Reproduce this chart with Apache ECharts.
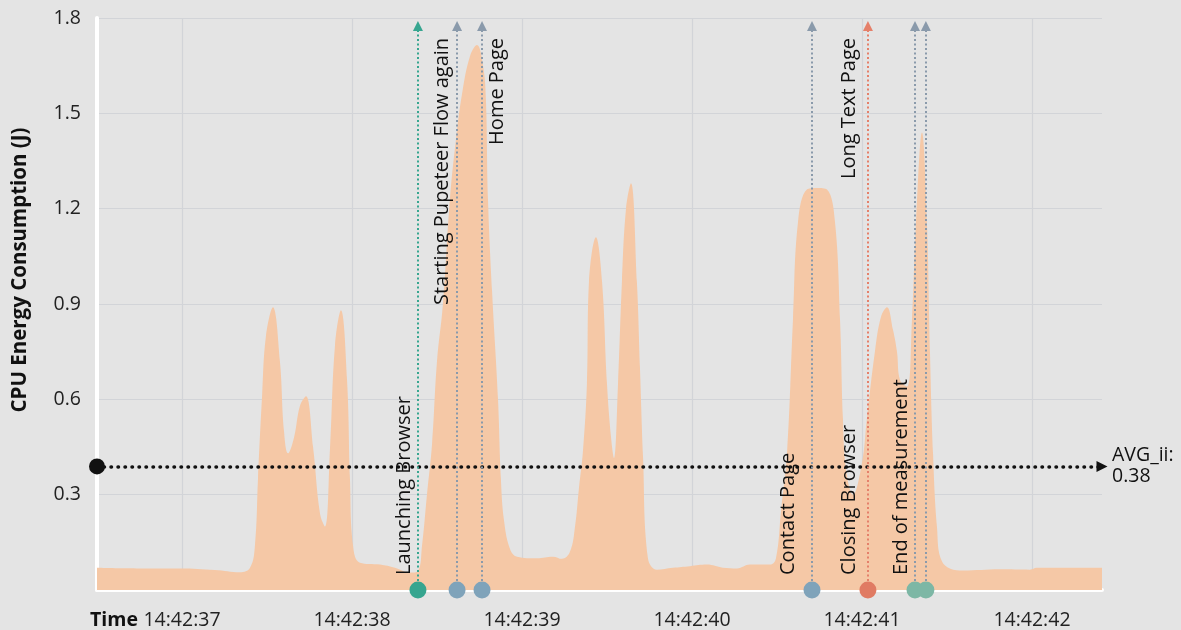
<!DOCTYPE html>
<html>
<head>
<meta charset="utf-8">
<script src="https://cdn.jsdelivr.net/npm/echarts@6/dist/echarts.min.js"></script>
<style>
  html, body { margin: 0; padding: 0; background: #e4e4e4; }
  #chart { width: 1181px; height: 630px; }
</style>
</head>
<body>
<div id="chart"></div>
<script>
// ---- data (time = seconds after 14:42:36) ----
const timeOffsets = [0.5, 0.753, 0.988, 1.194, 1.341, 1.4, 1.429, 1.447, 1.471, 1.494, 1.535, 1.576, 1.6, 1.624, 1.659, 1.694, 1.729, 1.771, 1.812, 1.841, 1.871, 1.9, 1.935, 1.971, 1.988, 2.006, 2.047, 2.165, 2.253, 2.341, 2.388, 2.412, 2.441, 2.471, 2.5, 2.535, 2.576, 2.612, 2.647, 2.694, 2.735, 2.771, 2.788, 2.8, 2.824, 2.859, 2.876, 2.894, 2.929, 2.971, 3.088, 3.182, 3.235, 3.282, 3.312, 3.335, 3.359, 3.382, 3.394, 3.435, 3.471, 3.5, 3.524, 3.541, 3.565, 3.588, 3.612, 3.641, 3.676, 3.694, 3.712, 3.741, 3.794, 3.888, 3.988, 4.088, 4.182, 4.265, 4.341, 4.459, 4.494, 4.524, 4.559, 4.594, 4.624, 4.676, 4.735, 4.794, 4.841, 4.871, 4.888, 4.906, 4.947, 5.0, 5.029, 5.076, 5.112, 5.147, 5.182, 5.206, 5.224, 5.265, 5.294, 5.318, 5.353, 5.382, 5.4, 5.418, 5.441, 5.471, 5.594, 5.812, 5.988, 6.029, 6.165, 6.412];
const cpuEnergy = [0.07, 0.068, 0.068, 0.063, 0.056, 0.07, 0.14, 0.35, 0.61, 0.8, 0.89, 0.72, 0.5, 0.43, 0.48, 0.58, 0.61, 0.45, 0.24, 0.2, 0.45, 0.77, 0.88, 0.66, 0.35, 0.14, 0.086, 0.08, 0.07, 0.055, 0.06, 0.14, 0.3, 0.46, 0.72, 0.9, 1.23, 1.42, 1.56, 1.68, 1.715, 1.65, 1.54, 1.23, 0.94, 0.6, 0.35, 0.22, 0.13, 0.105, 0.1, 0.105, 0.098, 0.12, 0.2, 0.32, 0.44, 0.65, 0.97, 1.11, 0.97, 0.65, 0.48, 0.415, 0.65, 0.97, 1.2, 1.28, 0.97, 0.7, 0.42, 0.1, 0.064, 0.07, 0.075, 0.08, 0.07, 0.068, 0.08, 0.08, 0.1, 0.25, 0.43, 0.85, 1.16, 1.26, 1.265, 1.26, 1.16, 0.85, 0.54, 0.38, 0.3, 0.4, 0.54, 0.75, 0.86, 0.89, 0.82, 0.75, 0.66, 0.64, 0.85, 1.16, 1.44, 1.16, 0.75, 0.43, 0.2, 0.09, 0.061, 0.065, 0.064, 0.07, 0.07, 0.07];

const xMin = 0.5, xMax = 6.412;
const tickLabels = ['14:42:37', '14:42:38', '14:42:39', '14:42:40', '14:42:41', '14:42:42'];
const yTicks = [0.3, 0.6, 0.9, 1.2, 1.5, 1.8];

const avgValue = 0.389;
const avgName = 'AVG_ii';

// events (vertical markers)
const eventTimes = [2.388, 2.618, 2.765, 4.706, 5.035, 5.312, 5.376];
const eventLineColors = ['#37a690', '#8a9aab', '#8a9aab', '#8a9aab', '#e5806a', '#8a9aab', '#8a9aab'];
const eventTopColors = ['#37a690', '#7fa3ba', '#7fa3ba', '#7fa3ba', '#e07b63', '#7fa3ba', '#7fa3ba'];
const eventDotColors = ['#36a58f', '#7fa3ba', '#7fa3ba', '#7fa3ba', '#e07b63', '#7db7a5', '#7db7a5'];

// notes attached to events
const noteTexts = ['Launching Browser', 'Starting Pupeteer Flow again', 'Home Page', 'Contact Page', 'Long Text Page', 'Closing Browser', 'End of measurement'];
const noteEvent = [0, 1, 2, 3, 4, 4, 5];
// styles
const notePositions = ['insideStartTop', 'insideEndTop', 'insideEndBottom', 'insideStartTop', 'insideEndTop', 'insideStartTop', 'insideStartTop'];
const noteDistances = [[15, 4], [12, 5], [12, 5], [15, 14], [12, 9], [15, 9], [15, 4]];

const FONT = '"Open Sans", "Noto Sans", sans-serif';
const lineTop = 1.775;

const areaData = timeOffsets.map((t, i) => [t, cpuEnergy[i]]);

const markLines = [];
// average line
markLines.push([
  { coord: [xMin, avgValue], symbol: 'circle', symbolSize: 16,
    lineStyle: { color: '#111', width: 3.5, type: [0.5, 6.5], cap: 'round' },
    itemStyle: { color: '#111' },
    label: {
      show: true, position: 'end', distance: 10,
      formatter: avgName + ':\n' + (Math.floor(avgValue * 100) / 100).toFixed(2),
      color: '#111', fontSize: 19.5, fontFamily: FONT, lineHeight: 21, align: 'left'
    }
  },
  { coord: [xMax, avgValue], symbol: 'triangle', symbolSize: 11 }
]);
// event lines
eventTimes.forEach((t, i) => {
  markLines.push([
    { coord: [t, 0], symbol: 'none',
      lineStyle: { color: eventLineColors[i], width: 2, type: [2, 2.5] },
      itemStyle: { color: eventTopColors[i] },
      label: { show: false } },
    { coord: [t, lineTop], symbol: 'triangle', symbolSize: 10 }
  ]);
});
// notes
noteTexts.forEach((txt, i) => {
  const t = eventTimes[noteEvent[i]];
  markLines.push([
    { coord: [t, 0], symbol: 'none',
      lineStyle: { color: 'rgba(0,0,0,0)', width: 0 },
      label: { show: true, position: notePositions[i], distance: noteDistances[i],
        formatter: txt, color: '#111', fontSize: 20, fontFamily: FONT } },
    { coord: [t, lineTop], symbol: 'none' }
  ]);
});

const chart = echarts.init(document.getElementById('chart'), null, { renderer: 'canvas' });
chart.setOption({
  backgroundColor: '#e4e4e4',
  animation: false,
  grid: { left: 97, right: 79, top: 18, bottom: 40, containLabel: false },
  xAxis: {
    type: 'value', min: xMin, max: xMax, minInterval: 1, maxInterval: 1,
    axisLine: { show: true, onZero: false, lineStyle: { color: '#ffffff', width: 4 } },
    axisTick: { show: false },
    axisLabel: {
      show: true, margin: 20, color: '#222', fontSize: 19.5, fontFamily: FONT,
      showMinLabel: false, showMaxLabel: false,
      formatter: v => (Number.isInteger(v) && tickLabels[v - 1]) ? tickLabels[v - 1] : ''
    },
    splitLine: { show: true, showMinLine: false, showMaxLine: false, lineStyle: { color: '#d2d4d8', width: 1.2 } }
  },
  yAxis: {
    type: 'value', min: 0, max: 1.8, interval: 0.3,
    axisLine: { show: true, onZero: false, lineStyle: { color: '#ffffff', width: 4 } },
    axisTick: { show: false },
    axisLabel: {
      margin: 16, color: '#222', fontSize: 19.5, fontFamily: FONT, showMinLabel: false,
      formatter: v => (yTicks.indexOf(+v.toFixed(1)) >= 0 ? v.toFixed(1) : '')
    },
    splitLine: { show: true, lineStyle: { color: '#d2d4d8', width: 1.2 } }
  },
  graphic: [
    { type: 'text', x: 20, y: 270, rotation: Math.PI / 2,
      style: { text: 'CPU Energy Consumption (J)', fill: '#111', font: 'bold 20.5px ' + FONT,
        align: 'center', verticalAlign: 'middle' } },
    { type: 'text', x: 90, y: 620,
      style: { text: 'Time', fill: '#111', font: 'bold 19.5px ' + FONT,
        align: 'left', verticalAlign: 'middle' } }
  ],
  series: [
    {
      type: 'line', name: 'CPU Energy', data: areaData,
      smooth: 0.4, symbol: 'none', z: 2,
      lineStyle: { width: 0, color: '#f5c8a6' },
      areaStyle: { color: '#f5c8a6', opacity: 1 },
      markLine: { silent: true, animation: false, precision: 3, symbolSize: [16, 11], data: markLines }
    },
    {
      type: 'scatter', name: 'events', z: 5, clip: false, silent: true,
      symbol: 'circle', symbolSize: 17,
      data: eventTimes.map((t, i) => ({ value: [t, 0], itemStyle: { color: eventDotColors[i], opacity: 1 } }))
    }
  ]
});
</script>
</body>
</html>
